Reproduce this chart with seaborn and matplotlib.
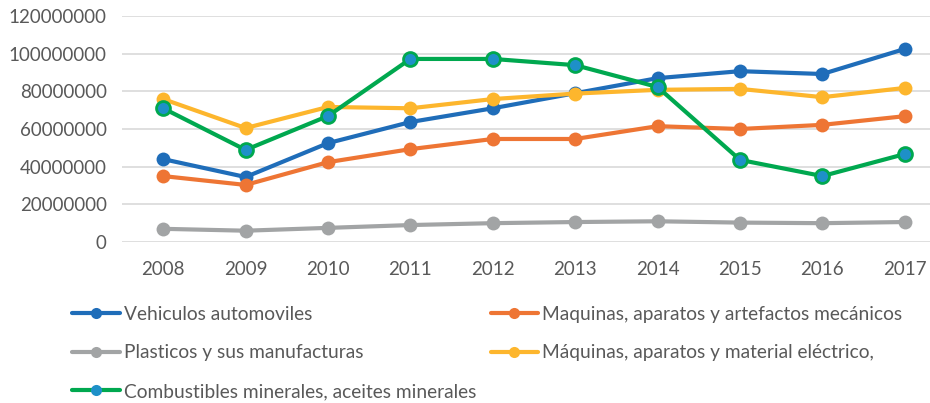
import numpy as np
import pandas as pd
import seaborn as sns
import matplotlib.pyplot as plt

#### Datos ####
years = [2008, 2009, 2010, 2011, 2012, 2013, 2014, 2015, 2016, 2017]

vehiculos = [44000000, 34500000, 52500000, 63700000, 71000000, 79000000, 87000000, 90700000, 89200000, 102500000]
maquinas_mec = [35000000, 30300000, 42400000, 49300000, 54700000, 54700000, 61500000, 60000000, 62200000, 66800000]
plasticos = [7000000, 6000000, 7500000, 9000000, 10000000, 10600000, 11000000, 10300000, 10000000, 10600000]
maquinas_elec = [75900000, 60500000, 71700000, 71000000, 75900000, 78800000, 80800000, 81300000, 76900000, 81800000]
combustibles = [71000000, 48900000, 66900000, 97200000, 97200000, 93900000, 82300000, 43600000, 35000000, 46700000]

names = ["Vehiculos automoviles",
         "Maquinas, aparatos y artefactos mecánicos",
         "Plasticos y sus manufacturas",
         "Máquinas, aparatos y material eléctrico,",
         "Combustibles minerales, aceites minerales"]
colors = ["#1F6DB9", "#EE7534", "#A2A4A5", "#FDB62D", "#00A84F"]
ticks = [0, 20000000, 40000000, 60000000, 80000000, 100000000, 120000000]

# Formato largo para seaborn
series = [vehiculos, maquinas_mec, plasticos, maquinas_elec, combustibles]
df = pd.concat([pd.DataFrame({"Año": [str(y) for y in years], "Valor": s, "Producto": n})
                for n, s in zip(names, series)], ignore_index=True)

#### Gráfico ####
sns.set_style("white")
plt.rcParams['font.family'] = ['Lato', 'DejaVu Sans']

fig = plt.figure(figsize=(9.3, 4.03), dpi=100)
ax = fig.add_axes([122/930, 0.3995, 808/930, 0.5608])

sns.lineplot(data=df, x="Año", y="Valor", hue="Producto", hue_order=names,
             palette=colors, marker="o", markersize=10, markeredgewidth=0,
             linewidth=3, sort=False, legend=False, ax=ax)

lines = ax.lines[:5]
for ln, c in zip(lines, colors):
    ln.set_markerfacecolor(c)
    ln.set_markeredgecolor(c)
# Combustibles: marcador azul con borde verde
lines[4].set_markerfacecolor("#1E90C8")
lines[4].set_markeredgecolor("#00A84F")
lines[4].set_markeredgewidth(2)

ax.set_xlim(-0.5, 9.306)
ax.set_ylim(0, 120000000)
ax.set_yticks(ticks)
ax.set_yticklabels([str(t) for t in ticks])
ax.yaxis.grid(True, color="#D9D9D9", linewidth=1.2)
ax.set_axisbelow(True)
for s in ax.spines.values():
    s.set_visible(False)
ax.tick_params(axis="both", length=0, labelsize=13.5, labelcolor="#595959")
ax.tick_params(axis="y", pad=11)
ax.tick_params(axis="x", pad=14)
ax.set_xlabel("")
ax.set_ylabel("")

# Leyenda en dos columnas (orden por filas como en Excel)
order = [0, 2, 4, 1, 3]
leg = fig.legend([lines[i] for i in order], [names[i] for i in order],
                 loc="upper left", bbox_to_anchor=(72/930, 1 - 306/403), ncol=2,
                 frameon=False, fontsize=13.8, labelcolor="#595959",
                 handlelength=2.5, handletextpad=0.2, markerscale=0.8,
                 labelspacing=1.12, columnspacing=0.75, borderpad=0, borderaxespad=0)
for h in leg.legend_handles:
    h.set_markeredgewidth(0)

plt.savefig("out.png", dpi=100)
